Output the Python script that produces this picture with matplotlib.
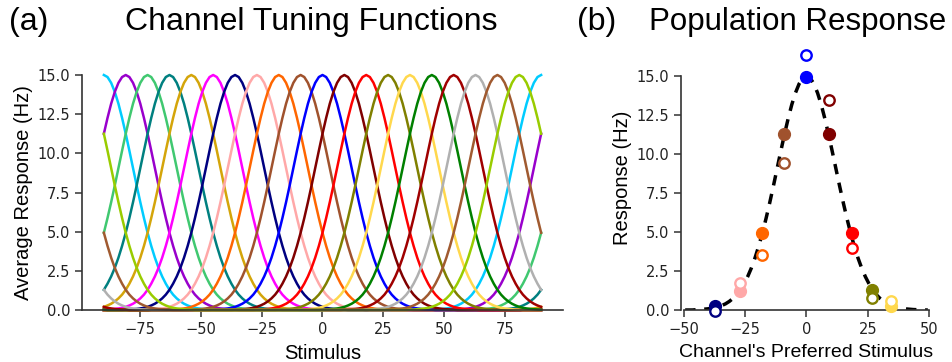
import numpy as np
import matplotlib
matplotlib.use("Agg")
import matplotlib.pyplot as plt

# tuning profile: response (Hz) vs distance from preferred stimulus (deg)
tuning_step = 1.5
tuning_resp = [15.00, 14.87, 14.50, 13.92, 13.17, 12.26, 11.25, 10.17, 9.06, 7.95,
               6.88, 5.87, 4.93, 4.09, 3.34, 2.69, 2.14, 1.68, 1.29, 0.98,
               0.74, 0.55, 0.40, 0.29, 0.20, 0.14, 0.10, 0.07, 0.05, 0.03, 0.02]
tuning_resp = np.concatenate([tuning_resp, np.zeros(31)])   # flat out to 90 deg

# channels (preferred stimulus) and colours
centers = [-90, -81, -72, -63, -54, -45, -36, -27, -18, -9,
           0, 9, 18, 27, 36, 45, 54, 63, 72, 81]
colors = ['#00ccff', '#9900cc', '#40c870', '#008080', '#d4a50a',
          '#ff00ff', '#000080', '#ffa8a8', '#ff6600', '#a0522d',
          '#0000ff', '#800000', '#ff0000', '#808000', '#ffd84d',
          '#008000', '#a00000', '#b0b0b0', '#a05a30', '#99cc00']

# population response (panel b)
pop_x = [-37.3, -27.1, -18.0, -9.3, 0.0, 9.1, 18.4, 26.6, 34.6]
pop_true = [0.26, 1.24, 4.96, 11.26, 14.96, 11.26, 4.96, 1.28, 0.26]
pop_noisy = [-0.06, 1.75, 3.50, 9.40, 16.35, 13.46, 3.95, 0.79, 0.58]
pop_colors = ['#000080', '#ffa8a8', '#ff6600', '#a0522d', '#0000ff',
              '#800000', '#ff0000', '#808000', '#ffd84d']

label_font = 'Liberation Sans'

fig = plt.figure(figsize=(9.53, 3.62), dpi=100)
W, H = 953.0, 362.0
ax1 = fig.add_axes([82 / W, 1 - 310 / H, (563 - 82) / W, (310 - 75) / H])
ax2 = fig.add_axes([681 / W, 1 - 310 / H, (932 - 681) / W, (310 - 44.8) / H])

# ---- (a) channel tuning functions
stim = np.arange(-90, 90 + 0.01, tuning_step)
for c, col in zip(centers, colors):
    d = np.abs(stim - c)
    d = np.minimum(d, 180 - d)
    idx = np.rint(d / tuning_step).astype(int)
    ax1.plot(stim, tuning_resp[idx], color=col, lw=1.8, clip_on=False)
ax1.set_xlim(-99, 99)
ax1.set_ylim(0, 15)
ax1.set_xticks([-75, -50, -25, 0, 25, 50, 75])
ax1.set_yticks([0, 2.5, 5, 7.5, 10, 12.5, 15])
ax1.set_xlabel('Stimulus', fontsize=14.5, family=label_font, labelpad=5)
ax1.set_ylabel('Average Response (Hz)', fontsize=14.5, family=label_font, labelpad=3)

# ---- (b) population response
off = np.arange(-49.5, 49.5 + 0.01, tuning_step)
idx = np.rint(np.abs(off) / tuning_step).astype(int)
ax2.plot(off, tuning_resp[idx], color='black', lw=2.5, ls=(0, (3, 2.5)))
for x, yt, yn, col in zip(pop_x, pop_true, pop_noisy, pop_colors):
    ax2.plot(x, yt, 'o', color=col, ms=8.5, clip_on=False, zorder=3)
    ax2.plot(x, yn, 'o', mfc='white', mec=col, mew=1.7, ms=7.5, clip_on=False, zorder=4)
ax2.set_xlim(-51.2, 51.2)
ax2.set_ylim(0, 17)
ax2.set_xticks([-50, -25, 0, 25, 50])
ax2.set_yticks([0, 2.5, 5, 7.5, 10, 12.5, 15])
ax2.spines['bottom'].set_bounds(-50, 50)
ax2.spines['left'].set_bounds(0, 15)
ax2.set_xlabel("Channel's Preferred Stimulus", fontsize=14, family=label_font, labelpad=5)
ax2.set_ylabel('Response (Hz)', fontsize=14.5, family=label_font, labelpad=3)

for ax in (ax1, ax2):
    for s in ('top', 'right'):
        ax.spines[s].set_visible(False)
    for s in ('left', 'bottom'):
        ax.spines[s].set_color('#333333')
        ax.spines[s].set_linewidth(1.2)
    ax.tick_params(labelsize=10.5, length=5, width=1.1, color='#333333', labelcolor='#222222')

# titles and panel letters
fig.text(311 / W, 1 - 30 / H, 'Channel Tuning Functions', fontsize=23, family=label_font,
         ha='center', va='baseline')
fig.text(9 / W, 1 - 30 / H, '(a)', fontsize=23, family=label_font, ha='left', va='baseline')
fig.text(798 / W, 1 - 30 / H, 'Population Response', fontsize=22.5, family=label_font,
         ha='center', va='baseline')
fig.text(577 / W, 1 - 30 / H, '(b)', fontsize=23, family=label_font, ha='left', va='baseline')

fig.savefig('out.png', dpi=100)
